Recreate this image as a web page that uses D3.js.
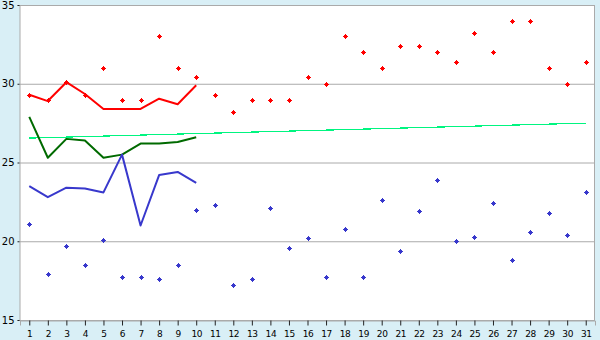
<!DOCTYPE html>
<html>
<head>
<style>
body { margin: 0; background: #d9eff6; }
text { font-family: "DejaVu Sans", Verdana, sans-serif; fill: #000; }
</style>
</head>
<body>
<script src="https://cdn.jsdelivr.net/npm/d3@7"></script>
<script>

// days of the month
var days = d3.range(1, 32);
var yTicks = [15, 20, 25, 30, 35];

// daily maxima / minima (dots)
var maxDots = [29.3, 29.0, 30.1, 29.3, 31.0, 29.0, 29.0, 33.0, 31.0, 30.4,
               29.3, 28.2, 29.0, 29.0, 29.0, 30.4, 30.0, 33.0, 32.0, 31.0,
               32.4, 32.4, 32.0, 31.4, 33.2, 32.0, 34.0, 34.0, 31.0, 30.0, 31.4];
var minDots = [21.1, 17.9, 19.7, 18.5, 20.1, 17.7, 17.7, 17.6, 18.5, 22.0,
               22.3, 17.2, 17.6, 22.1, 19.6, 20.2, 17.7, 20.8, 17.7, 22.6,
               19.4, 21.9, 23.9, 20.0, 20.3, 22.4, 18.8, 20.6, 21.8, 20.4, 23.1];

// first ten days, lines
var lineDays = d3.range(1, 11);
var redLine   = [29.3, 28.9, 30.1, 29.35, 28.4, 28.4, 28.4, 29.05, 28.7, 29.9];
var greenLine = [27.9, 25.3, 26.5, 26.4, 25.3, 25.5, 26.2, 26.2, 26.3, 26.6];
var blueLine  = [23.5, 22.8, 23.4, 23.35, 23.1, 25.5, 21.0, 24.2, 24.4, 23.7];

// trend line end points
var trendDays = [1, 31];
var trendValues = [26.55, 27.5];

var W = 600, H = 340;
var m = {top: 5, right: 5, bottom: 20, left: 20};

var svg = d3.select("body").append("svg")
    .attr("width", W).attr("height", H);

var x = d3.scalePoint().domain(days)
    .range([m.left, W - m.right]).padding(0.5);
var y = d3.scaleLinear().domain([15, 35]).range([H - m.bottom, m.top]);

// plot background
svg.append("rect")
    .attr("x", m.left).attr("y", m.top)
    .attr("width", W - m.left - m.right).attr("height", H - m.top - m.bottom)
    .attr("fill", "#fff");

// grid
svg.append("g").selectAll("line").data(yTicks).enter().append("line")
    .attr("x1", m.left).attr("x2", W - m.right)
    .attr("y1", function(d) { return y(d) + 0.5; })
    .attr("y2", function(d) { return y(d) + 0.5; })
    .attr("stroke", "#aaa");
svg.append("line")
    .attr("x1", W - m.right - 0.5).attr("x2", W - m.right - 0.5)
    .attr("y1", m.top).attr("y2", H - m.bottom)
    .attr("stroke", "#aaa");

// axes
var xAxis = svg.append("g")
    .attr("transform", "translate(0," + (H - m.bottom + 0.5) + ")")
    .call(d3.axisBottom(x).tickSize(5).tickPadding(5));
var yAxis = svg.append("g")
    .attr("transform", "translate(" + (m.left - 0.5) + ",0)")
    .call(d3.axisLeft(y).tickValues(yTicks).tickSize(2).tickPadding(3));
xAxis.select(".domain").attr("stroke", "#aaa");
yAxis.select(".domain").attr("stroke", "#aaa");
xAxis.selectAll("text").style("font-size", "9px").attr("font-family", null)
    .style("letter-spacing", "-0.4px");
yAxis.selectAll("text").style("font-size", "10px").attr("font-family", null);
xAxis.selectAll(".tick line").attr("stroke", "#222");
yAxis.selectAll(".tick line").attr("stroke", "#222");

var line = d3.line()
    .x(function(d) { return x(d[0]); })
    .y(function(d) { return y(d[1]); });

svg.append("path")
    .datum(d3.zip(trendDays, trendValues))
    .attr("d", line).attr("fill", "none")
    .attr("stroke", "#00f580").attr("stroke-width", 1.2)
    .attr("shape-rendering", "crispEdges");

[[redLine, "#ff0000"], [greenLine, "#006a00"], [blueLine, "#3838cc"]].forEach(function(s) {
    svg.append("path")
        .datum(d3.zip(lineDays, s[0]))
        .attr("d", line).attr("fill", "none")
        .attr("stroke", s[1]).attr("stroke-width", 2)
        .attr("stroke-linejoin", "round");
});

// small plus markers (3x3 centre, 1px arms)
var marker = "M-0.5,-2.5h1v1h1v1h1v1h-1v1h-1v1h-1v-1h-1v-1h-1v-1h1v-1h1z";
function dots(vals, color) {
    svg.append("g").selectAll("path").data(d3.zip(days, vals)).enter().append("path")
        .attr("d", marker)
        .attr("shape-rendering", "crispEdges")
        .attr("transform", function(d) {
            return "translate(" + (Math.round(x(d[0])) + 0.5) + "," + (Math.round(y(d[1])) + 0.5) + ")";
        })
        .attr("fill", color);
}
dots(maxDots, "#ff0000");
dots(minDots, "#3838cc");

</script>
</body>
</html>
